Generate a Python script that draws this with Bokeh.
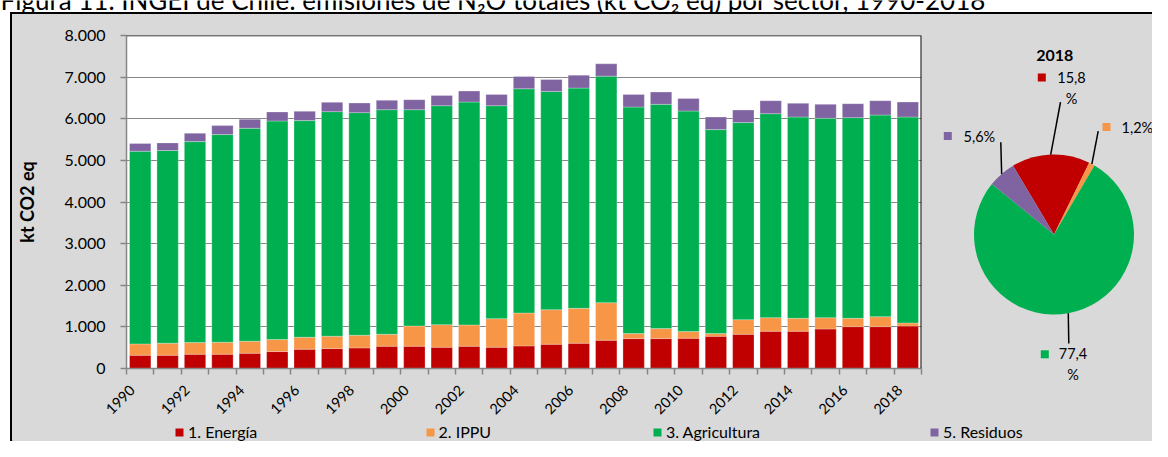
import math
from bokeh.plotting import figure
from bokeh.models import (Range1d, FixedTicker, CustomJSTickFormatter, Span, Legend,
                          LegendItem, Spacer, ColumnDataSource)
from bokeh.layouts import row, column
from bokeh.core.properties import value
from bokeh.embed import file_html
from bokeh.resources import INLINE

# ---------------- data ----------------
years = list(range(1990, 2019))
energia = [318, 318, 343, 343, 367, 407, 463, 479, 495, 535, 535, 511, 535, 511, 543,
           583, 607, 679, 718, 718, 726, 774, 822, 894, 894, 950, 1006, 1006, 1022]
ippu = [273, 289, 280, 288, 288, 288, 288, 296, 304, 287, 487, 543, 511, 686, 790,
        830, 838, 902, 120, 240, 160, 64, 351, 327, 311, 271, 199, 239, 72]
agricultura = [4629, 4629, 4828, 4989, 5116, 5252, 5204, 5396, 5348, 5396, 5196, 5260,
               5356, 5117, 5388, 5244, 5292, 5443, 5444, 5388, 5300, 4901, 4734, 4901,
               4837, 4789, 4822, 4845, 4948]
residuos = [184, 184, 200, 215, 216, 216, 223, 223, 231, 224, 240, 247, 263, 271, 295,
            287, 311, 296, 303, 295, 303, 303, 303, 312, 328, 336, 335, 344, 360]
sectores = ["1. Energía", "2. IPPU", "3. Agricultura", "5. Residuos"]
colores = ["#C00000", "#F79646", "#00B050", "#8064A2"]
y_ticks = [0, 1000, 2000, 3000, 4000, 5000, 6000, 7000, 8000]
x_label_years = years[::2]
pie_year = "2018"
pie_pct = [15.8, 1.2, 77.4, 5.6]
titulo = "Figura 11. INGEI de Chile: emisiones de N\u2082O totales (kt CO\u2082 eq) por sector, 1990-2018"
y_label = "kt CO2 eq"

FONT = "Lato"
BG = "#D9D9D9"
GRID = "#868686"
TXT = "#000000"

# ---------------- title strip (top of the title is cut, as in the source) ----------------
tfig = figure(width=1152, height=12, x_range=Range1d(0, 1152), y_range=Range1d(0, 12),
              x_axis_type=None, y_axis_type=None, output_backend="svg",
              toolbar_location=None, min_border=0)
tfig.frame_align = False
tfig.outline_line_color = None
tfig.background_fill_color = "white"
tfig.border_fill_color = "white"
tfig.text(x=[0], y=[13], text=[titulo], text_font=value(FONT), text_font_size="26px",
          text_color=TXT, text_baseline="alphabetic", text_align="left")

# ---------------- bar chart ----------------
src = ColumnDataSource(dict(year=years, e=energia, i=ippu, a=agricultura, r=residuos))
bar = figure(width=930, height=408, x_range=Range1d(1989.5, 2018.5),
             y_range=Range1d(0, 8000), output_backend="svg", toolbar_location=None,
             min_border_left=109, min_border_right=21, min_border_top=21,
             min_border_bottom=53)
bar.frame_align = False
bar.background_fill_color = "white"
bar.border_fill_color = BG
bar.outline_line_color = None

rends = bar.vbar_stack(["e", "i", "a", "r"], x="year", width=0.78, source=src,
                       fill_color=colores, line_color="white", line_alpha=0.45,
                       line_width=0.6)

bar.xgrid.visible = False
bar.ygrid.grid_line_color = GRID
bar.ygrid.grid_line_width = 1.2
bar.ygrid.ticker = FixedTicker(ticks=y_ticks)

bar.add_layout(Span(location=8000, dimension="width", line_color="black", line_width=1.6))
bar.add_layout(Span(location=2018.5, dimension="height", line_color="black", line_width=2))

ya = bar.yaxis[0]
ya.ticker = FixedTicker(ticks=y_ticks)
ya.formatter = CustomJSTickFormatter(
    code="return tick.toFixed(0).replace(/\\B(?=(\\d{3})+(?!\\d))/g, '.');")
ya.axis_line_color = GRID
ya.axis_line_width = 1.5
ya.major_tick_line_color = GRID
ya.major_tick_line_width = 1.5
ya.major_tick_out = 6
ya.major_tick_in = 0
ya.minor_tick_line_color = None
ya.major_label_standoff = 15
ya.major_label_text_font = FONT
ya.major_label_text_font_size = "16px"
ya.major_label_text_color = TXT
ya.axis_label = y_label
ya.axis_label_text_font = FONT
ya.axis_label_text_font_size = "18px"
ya.axis_label_text_font_style = "bold"
ya.axis_label_text_color = TXT
ya.axis_label_standoff = 24

# year labels sit a little left of the category centre, as Excel draws them
label_shift = 0.3
xa = bar.xaxis[0]
xa.ticker = FixedTicker(ticks=[y - label_shift for y in x_label_years],
                        minor_ticks=[y - 0.5 for y in years] + [years[-1] + 0.5])
xa.formatter = CustomJSTickFormatter(code="return Math.round(tick).toFixed(0);")
xa.axis_line_color = GRID
xa.axis_line_width = 1.5
xa.major_tick_line_color = None
xa.major_tick_out = 0
xa.major_tick_in = 0
xa.minor_tick_line_color = GRID
xa.minor_tick_line_width = 1.5
xa.minor_tick_out = 6
xa.minor_tick_in = 0
xa.major_label_orientation = math.pi / 4
xa.major_label_standoff = 13
xa.major_label_text_font = FONT
xa.major_label_text_font_size = "14.5px"
xa.major_label_text_color = TXT

# ---------------- pie chart ----------------
pie = figure(width=210, height=408, x_range=Range1d(0, 210), y_range=Range1d(0, 408),
             x_axis_type=None, y_axis_type=None, output_backend="svg",
             toolbar_location=None, min_border=0)
pie.frame_align = False
pie.outline_line_color = None
pie.background_fill_color = BG
pie.border_fill_color = BG

cx, cy, R = 111.5, 188.0, 80.0
start_deg = -30.8  # first slice starts this far (clockwise) from 12 o'clock
s_ang, e_ang, mids = [], [], []
cum = start_deg
for p in pie_pct:
    a0, a1 = cum, cum + p * 3.6
    s_ang.append(math.radians(90 - a0))
    e_ang.append(math.radians(90 - a1))
    mids.append((a0 + a1) / 2)
    cum = a1
pie.wedge(x=cx, y=cy, radius=R, start_angle=s_ang, end_angle=e_ang, direction="clock",
          fill_color=colores, line_color=None)

# leader lines: from each label to the middle of its slice's arc
label_anchor = [(118, 320.3), (155.7, 291.3), (126.3, 79), (58.3, 280.3)]
x0s, y0s, x1s, y1s = [], [], [], []
for (ax, ay), m in zip(label_anchor, mids):
    x0s.append(ax); y0s.append(ay)
    x1s.append(cx + R * math.sin(math.radians(m)))
    y1s.append(cy + R * math.cos(math.radians(m)))
pie.segment(x0=x0s, y0=y0s, x1=x1s, y1=y1s, line_color="black", line_width=1.5)

def fmt(p, wrap):
    s = f"{p:.1f}".replace(".", ",")
    return s + ("\n%" if wrap else "%")

wrap = [True, False, True, False]
labels = [fmt(p, w) for p, w in zip(pie_pct, wrap)]
key_pos = [(99.3, 345), (164, 295.5), (102.3, 68.2), (5.3, 286.5)]
pie.scatter(x=[k[0] for k in key_pos], y=[k[1] for k in key_pos], marker="square",
            size=8, fill_color=colores, line_color=None)
pie.text(x=[129, 130.5], y=[334.5, 58.3], text=[labels[0], labels[2]],
         text_align="center", text_baseline="middle", text_font=value(FONT),
         text_font_size="14.5px", text_line_height=1.22, text_color=TXT)
pie.text(x=[179, 21], y=[295.5, 286], text=[labels[1], labels[3]],
         text_align="left", text_baseline="middle", text_font=value(FONT),
         text_font_size="14.5px", text_color=TXT)
pie.text(x=[112.3], y=[367.5], text=[pie_year], text_align="center",
         text_baseline="middle", text_font=value(FONT), text_font_size="16px",
         text_font_style="bold", text_color=TXT)

# ---------------- legend strip ----------------
lfig = figure(width=1140, height=19, x_range=Range1d(0, 1140), y_range=Range1d(0, 19),
              x_axis_type=None, y_axis_type=None, output_backend="svg",
              toolbar_location=None, min_border=0)
lfig.frame_align = False
lfig.outline_line_color = None
lfig.background_fill_color = BG
lfig.border_fill_color = BG
legend_x = [162, 412.5, 640, 917]  # left edge of each legend key in this strip
for k in range(4):
    # key-only renderer (its bar lies outside the strip's range, so only the key shows)
    r = lfig.vbar(x=[-1000], top=[1], width=0.78, fill_color=colores[k], line_color=None)
    leg = Legend(items=[LegendItem(label=sectores[k], renderers=[r])],
                 location=(legend_x[k], 0), orientation="horizontal",
                 padding=0, margin=0, spacing=0, background_fill_alpha=0,
                 border_line_color=None, glyph_width=10, glyph_height=10,
                 label_standoff=4, label_height=14, label_text_font=FONT,
                 label_text_font_size="16px", label_text_color=TXT)
    lfig.add_layout(leg)

# ---------------- layout ----------------
top_border = Spacer(width=1140, height=2, styles={"background-color": "black"})
left_white = Spacer(width=10, height=429)
left_border = Spacer(width=2, height=429, styles={"background-color": "black"})
charts = row(bar, pie, spacing=0, styles={"background-color": BG})
inner = column(top_border, charts, lfig, spacing=0, styles={"background-color": BG})
body = row(left_white, left_border, inner, spacing=0)
page = column(tfig, body, spacing=0)

open("out.html", "w").write(file_html(page, INLINE))
